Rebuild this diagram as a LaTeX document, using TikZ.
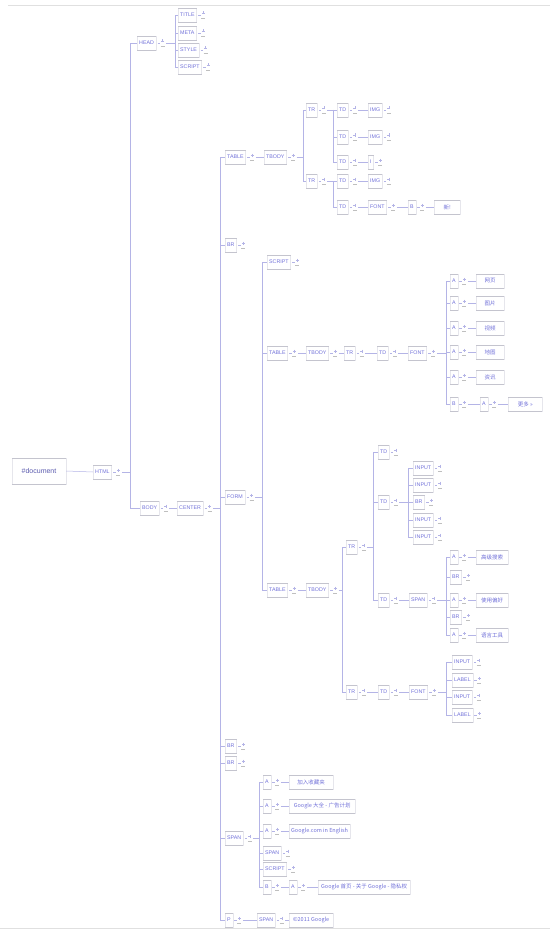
\documentclass[tikz,border=0pt]{standalone}
\usepackage{fontspec}
\setmainfont{Liberation Sans}
\newfontfamily\cjk{Noto Sans CJK SC}
\usetikzlibrary{calc}
\definecolor{lab}{HTML}{7070D8}
\definecolor{edg}{HTML}{B4B4E6}
\definecolor{bx}{HTML}{E6E6EC}
\definecolor{rl}{HTML}{C4C4CE}
\tikzset{
 x=1pt, y=-1pt,
 nd/.style={draw=bx, line width=0.4pt, text=lab, font=\fontsize{5.3}{6}\selectfont, inner xsep=2pt, inner ysep=0pt, minimum height=14pt, anchor=west},
 tx/.style={nd, font=\cjk\fontsize{5.5}{6}\selectfont, minimum width=28pt},
 edge/.style={draw=edg, line width=0.5pt},
 icn/.style={draw=edg, line width=0.5pt},
 icb/.style={draw=black!25, line width=0.4pt},
 rule/.style={draw=rl, line width=0.5pt},
}
\newcommand\rules[1]{\draw[rule] (#1.north west) -- (#1.north east) (#1.south west) -- (#1.south east);}
\newcommand\dn[4]{%
  \node[nd] (#1) at (#2,#3) {#4};
  \rules{#1}
  \draw[edge] ($(#1.east)+(1.5,0)$) -- ++(2.5,0);
  \draw[icn] ($(#1.east)+(6.5,-3.5)$) -- ++(0,3) ($(#1.east)+(5,-2)$) -- ++(3,0);
  \draw[icb] ($(#1.east)+(4.5,3)$) -- ++(4,0);
  \coordinate (#1i) at ($(#1.east)+(10,0)$);
}
\newcommand\dx[5][]{\node[tx,#1] (#2) at (#3,#4) {#5};\rules{#2}}
\newcommand\bus[3]{%
  \path let \p1=(#1i) in coordinate (#1b) at (#2pt,\y1);
  \draw[edge] (#1i) -- (#1b);
  \foreach \c in {#3}{\draw[edge] (#1b) |- (\c.west);}
}
\newcommand\lnk[2]{\draw[edge] (#1i) -- (#2.west);}
\begin{document}
\begin{tikzpicture}
\useasboundingbox (0,0) rectangle (550,931);
\draw[black!12, line width=0.8pt] (8,5) -- (550,5);
\draw[black!12, line width=0.8pt] (0,928) -- (550,928);
% root
\node[draw=bx, line width=0.4pt, text=lab!80!black, font=\fontsize{7}{8}\selectfont, minimum width=54pt, minimum height=26pt] (doc) at (39,471) {\#document};
\rules{doc}
\dn{html}{93}{472}{HTML}
\draw[edge] (doc.east) -- (html.west);
% head
\dn{head}{137}{43}{HEAD}
\dn{title}{178}{15}{TITLE}
\dn{meta}{178}{33}{META}
\dn{style}{178}{50}{STYLE}
\dn{hscript}{178}{67}{SCRIPT}
\bus{head}{175}{title,meta,style,hscript}
% body
\dn{body}{140}{508}{BODY}
\bus{html}{130}{head,body}
\dn{center}{177}{508}{CENTER}
\lnk{body}{center}
\dn{tbl1}{225}{157}{TABLE}
\dn{br1}{225}{245}{BR}
\dn{form}{225}{497}{FORM}
\dn{br2}{225}{746}{BR}
\dn{br3}{225}{763}{BR}
\dn{span1}{225}{838}{SPAN}
\dn{pp}{225}{920}{P}
\bus{center}{220}{tbl1,br1,form,br2,br3,span1,pp}
% first table
\dn{tbody1}{264}{157}{TBODY}
\lnk{tbl1}{tbody1}
\dn{tr1}{306}{110}{TR}
\dn{tr2}{306}{181}{TR}
\bus{tbody1}{303}{tr1,tr2}
\dn{td1}{337}{110}{TD}
\dn{td2}{337}{137}{TD}
\dn{td3}{337}{162}{TD}
\bus{tr1}{333}{td1,td2,td3}
\dn{td4}{337}{181}{TD}
\dn{td5}{337}{207}{TD}
\bus{tr2}{333}{td4,td5}
\dn{img1}{368}{110}{IMG}
\dn{img2}{368}{137}{IMG}
\dn{ii}{368}{162}{I}
\dn{img3}{368}{181}{IMG}
\dn{font1}{368}{207}{FONT}
\lnk{td1}{img1}
\lnk{td2}{img2}
\lnk{td3}{ii}
\lnk{td4}{img3}
\lnk{td5}{font1}
\dn{b1}{408}{207}{B}
\lnk{font1}{b1}
\dx[minimum width=26pt]{t1}{434}{207}{新!}
\lnk{b1}{t1}
% form
\dn{fscript}{267}{262}{SCRIPT}
\dn{tbl2}{267}{353}{TABLE}
\dn{tbl3}{267}{590}{TABLE}
\bus{form}{262}{fscript,tbl2,tbl3}
% second table (nav)
\dn{tbody2}{306}{353}{TBODY}
\lnk{tbl2}{tbody2}
\dn{tr3}{344}{353}{TR}
\lnk{tbody2}{tr3}
\dn{td6}{377}{353}{TD}
\lnk{tr3}{td6}
\dn{font2}{408}{353}{FONT}
\lnk{td6}{font2}
\dn{a1}{450}{281}{A}
\dn{a2}{450}{303}{A}
\dn{a3}{450}{328}{A}
\dn{a4}{450}{352}{A}
\dn{a5}{450}{377}{A}
\dn{b2}{450}{404}{B}
\bus{font2}{446}{a1,a2,a3,a4,a5,b2}
\dx{n1}{476}{281}{网页}
\dx{n2}{476}{303}{图片}
\dx{n3}{476}{328}{视频}
\dx{n4}{476}{352}{地图}
\dx{n5}{476}{377}{资讯}
\lnk{a1}{n1}
\lnk{a2}{n2}
\lnk{a3}{n3}
\lnk{a4}{n4}
\lnk{a5}{n5}
\dn{a6}{480}{404}{A}
\lnk{b2}{a6}
\dx[minimum width=34pt]{n6}{508}{404}{更多 »}
\lnk{a6}{n6}
% third table (search form)
\dn{tbody3}{306}{590}{TBODY}
\lnk{tbl3}{tbody3}
\dn{tr4}{346}{547}{TR}
\dn{tr5}{346}{692}{TR}
\bus{tbody3}{342}{tr4,tr5}
\dn{td7}{378}{452}{TD}
\dn{td8}{378}{502}{TD}
\dn{td9}{378}{600}{TD}
\bus{tr4}{373}{td7,td8,td9}
\dn{in1}{413}{468}{INPUT}
\dn{in2}{413}{485}{INPUT}
\dn{br4}{413}{502}{BR}
\dn{in3}{413}{520}{INPUT}
\dn{in4}{413}{537}{INPUT}
\bus{td8}{408}{in1,in2,br4,in3,in4}
\dn{span2}{409}{600}{SPAN}
\lnk{td9}{span2}
\dn{a7}{450}{557}{A}
\dn{br5}{450}{577}{BR}
\dn{a8}{450}{600}{A}
\dn{br6}{450}{617}{BR}
\dn{a9}{450}{635}{A}
\bus{span2}{446}{a7,br5,a8,br6,a9}
\dx[minimum width=32pt]{n7}{476}{557}{高级搜索}
\dx[minimum width=32pt]{n8}{476}{600}{使用偏好}
\dx[minimum width=32pt]{n9}{476}{635}{语言工具}
\lnk{a7}{n7}
\lnk{a8}{n8}
\lnk{a9}{n9}
\dn{td10}{378}{692}{TD}
\lnk{tr5}{td10}
\dn{font3}{409}{692}{FONT}
\lnk{td10}{font3}
\dn{in5}{452}{662}{INPUT}
\dn{lb1}{452}{680}{LABEL}
\dn{in6}{452}{697}{INPUT}
\dn{lb2}{452}{715}{LABEL}
\bus{font3}{446}{in5,lb1,in6,lb2}
% footer span
\dn{a10}{263}{782}{A}
\dn{a11}{263}{806}{A}
\dn{a12}{263}{831}{A}
\dn{span3}{263}{853}{SPAN}
\dn{sscript}{263}{869}{SCRIPT}
\dn{b3}{263}{887}{B}
\bus{span1}{259}{a10,a11,a12,span3,sscript,b3}
\dx[minimum width=44pt]{n10}{289}{782}{加入收藏夹}
\dx[minimum width=66pt]{n11}{289}{806}{Google 大全 - 广告计划}
\dx[minimum width=60pt]{n12}{289}{831}{Google.com in English}
\lnk{a10}{n10}
\lnk{a11}{n11}
\lnk{a12}{n12}
\dn{a13}{289}{887}{A}
\lnk{b3}{a13}
\dx[minimum width=92pt]{n13}{318}{887}{Google 首页 - 关于 Google - 隐私权}
\lnk{a13}{n13}
% p
\dn{span4}{257}{920}{SPAN}
\lnk{pp}{span4}
\dx[minimum width=44pt]{n14}{289}{920}{©2011 Google}
\lnk{span4}{n14}
\end{tikzpicture}
\end{document}
